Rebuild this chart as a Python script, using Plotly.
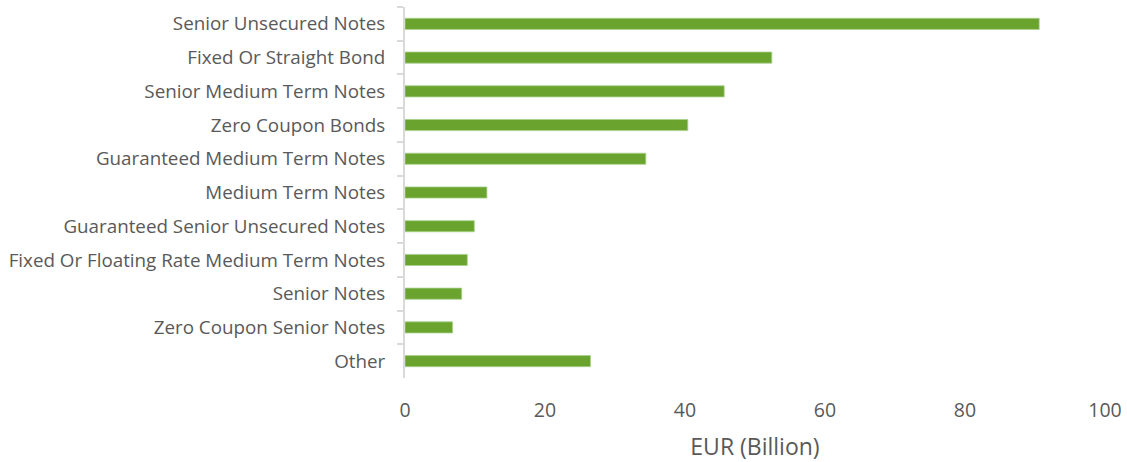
import plotly.graph_objects as go

categories = [
    "Senior Unsecured Notes",
    "Fixed Or Straight Bond",
    "Senior Medium Term Notes",
    "Zero Coupon Bonds",
    "Guaranteed Medium Term Notes",
    "Medium Term Notes",
    "Guaranteed Senior Unsecured Notes",
    "Fixed Or Floating Rate Medium Term Notes",
    "Senior Notes",
    "Zero Coupon Senior Notes",
    "Other",
]
amounts_eur_bn = [90.6, 52.4, 45.6, 40.4, 34.4, 11.7, 9.9, 8.9, 8.1, 6.8, 26.5]
x_ticks = [0, 20, 40, 60, 80, 100]

FONT = "Open Sans"
TEXT = "#595959"
GRID = "#d9d9d9"
GREEN = "#6aa42f"

fig = go.Figure(
    go.Bar(
        x=amounts_eur_bn,
        y=categories,
        orientation="h",
        width=0.33,
        marker=dict(color=GREEN, line=dict(color="#a9d18e", width=0.8)),
        hoverinfo="x+y",
    )
)

fig.update_layout(
    width=1127,
    height=462,
    margin=dict(l=405, r=22, t=7, b=84),
    plot_bgcolor="white",
    paper_bgcolor="white",
    showlegend=False,
    font=dict(family=FONT, color=TEXT, size=18),
)

fig.update_xaxes(
    range=[0, 100],
    tickvals=x_ticks,
    ticktext=[str(v) for v in x_ticks],
    showgrid=False,
    zeroline=False,
    showline=False,
    automargin=False,
    ticks="outside",
    ticklen=15,
    tickcolor="rgba(0,0,0,0)",
    tickfont=dict(size=19.5, family=FONT, color=TEXT),
    title=dict(text="EUR (Billion)", font=dict(size=23, family=FONT, color=TEXT), standoff=20),
)

fig.update_yaxes(
    categoryorder="array",
    categoryarray=categories,
    autorange="reversed",
    showgrid=False,
    zeroline=False,
    showline=True,
    automargin=False,
    linecolor=GRID,
    linewidth=2,
    ticks="outside",
    tickson="boundaries",
    ticklen=6,
    tickwidth=1.5,
    tickcolor=GRID,
    ticklabelstandoff=14,
    tickfont=dict(size=18.8, family=FONT, color=TEXT),
)

fig.write_html("out.html")
